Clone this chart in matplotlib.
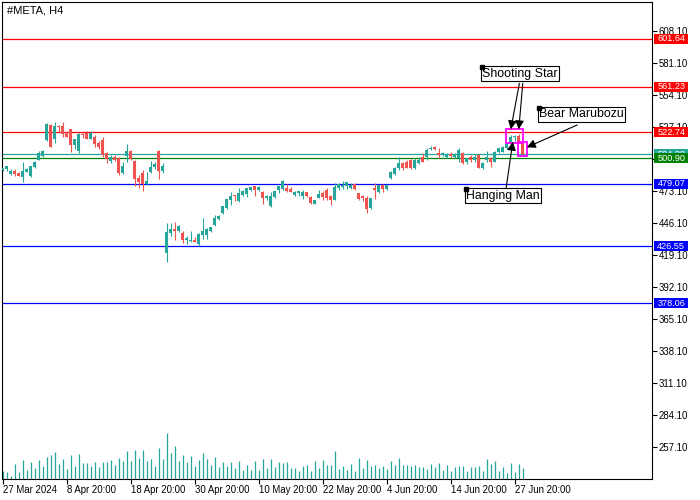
import matplotlib
matplotlib.use("Agg")
import matplotlib.pyplot as plt
from matplotlib.patches import Rectangle

plt.rcParams["font.family"] = ["Liberation Sans", "DejaVu Sans"]

symbol = "#META, H4"

# OHLC per H4 bar
opens = [491.0, 491.7, 487.7, 490.0, 488.6, 485.2, 489.4, 486.1, 493.7, 499.6,
         503.0, 516.2, 528.9, 516.8, 527.5, 528.0, 522.7, 525.2, 512.0, 507.2,
         520.4, 522.4, 517.3, 519.0, 514.0, 516.2, 504.9, 498.2, 502.1, 501.0,
         488.3, 503.0, 506.9, 498.7, 483.8, 488.3, 479.0, 489.1, 493.1, 507.2,
         489.7, 421.0, 437.9, 441.0, 439.5, 438.0, 431.3, 430.8, 431.5, 428.5,
         436.0, 436.0, 439.5, 444.6, 449.4, 454.5, 458.6, 465.4, 469.7, 464.3,
         469.5, 470.9, 474.1, 477.0, 473.9, 472.5, 466.8, 460.8, 468.2, 474.3,
         474.9, 475.8, 474.9, 469.6, 471.0, 469.3, 472.1, 468.2, 462.5, 467.6,
         471.0, 473.8, 468.7, 465.9, 475.8, 476.6, 477.2, 475.8, 479.1, 471.8,
         468.2, 467.6, 458.6, 475.5, 472.4, 478.0, 474.9, 484.5, 487.2, 492.2,
         496.5, 497.9, 499.3, 492.2, 496.5, 502.1, 502.1, 508.6, 510.5, 504.9,
         503.5, 502.1, 504.1, 502.1, 500.7, 504.9, 497.3, 502.1, 499.3, 503.5,
         492.2, 499.3, 500.7, 497.9, 505.8, 506.3, 509.1, 514.8, 518.4, 519.6,
         513.8]
highs = [492.8, 494.5, 491.7, 491.4, 489.4, 497.6, 492.5, 494.5, 498.4, 507.2,
         508.0, 530.3, 529.7, 531.4, 528.9, 531.4, 523.5, 525.8, 517.2, 521.8,
         522.4, 524.1, 523.8, 520.1, 515.6, 519.0, 506.0, 503.8, 503.5, 501.5,
         497.3, 512.8, 507.7, 499.3, 487.0, 490.8, 489.1, 498.7, 497.9, 508.0,
         496.8, 445.8, 445.7, 447.0, 444.4, 439.0, 434.7, 439.6, 434.0, 438.0,
         450.2, 441.6, 443.0, 453.0, 453.1, 460.7, 466.6, 472.4, 469.9, 475.5,
         473.9, 475.9, 476.8, 477.3, 477.1, 473.4, 469.8, 472.1, 473.5, 477.7,
         482.8, 478.9, 476.6, 472.9, 472.7, 473.8, 472.1, 469.3, 465.9, 474.3,
         472.7, 475.5, 470.1, 480.0, 480.0, 481.4, 481.1, 480.0, 480.0, 471.8,
         470.1, 469.3, 467.6, 480.0, 478.6, 479.4, 478.9, 489.8, 493.0, 502.1,
         497.9, 499.3, 500.0, 500.7, 502.1, 504.9, 509.1, 511.4, 511.4, 509.1,
         505.8, 505.5, 506.3, 505.5, 509.1, 505.8, 501.2, 503.5, 504.1, 504.1,
         497.3, 506.9, 502.1, 506.9, 509.7, 511.4, 514.8, 520.4, 520.7, 521.0,
         514.0]
lows = [490.2, 490.3, 486.9, 485.8, 485.5, 481.0, 489.0, 484.6, 492.2, 499.3,
        502.1, 515.5, 510.3, 513.4, 523.2, 519.0, 518.5, 506.3, 508.6, 504.9,
        517.6, 517.0, 516.8, 510.6, 508.6, 502.1, 497.0, 496.8, 498.7, 486.9,
        487.4, 497.9, 499.3, 477.6, 476.0, 473.4, 478.2, 488.6, 491.4, 483.2,
        488.3, 413.4, 434.7, 432.0, 438.2, 429.4, 428.0, 429.6, 429.6, 426.5,
        432.6, 432.5, 438.7, 443.5, 448.6, 453.7, 457.6, 461.3, 464.3, 463.7,
        468.6, 467.8, 473.4, 469.2, 473.1, 462.1, 465.3, 459.7, 467.3, 471.0,
        474.3, 472.1, 472.1, 468.7, 468.7, 466.7, 468.2, 462.5, 461.9, 467.0,
        465.3, 465.9, 461.1, 465.3, 474.3, 474.9, 475.2, 475.2, 473.8, 465.3,
        464.5, 454.3, 458.3, 466.7, 471.0, 472.4, 473.8, 483.6, 486.6, 490.8,
        490.8, 492.2, 491.5, 491.5, 495.8, 497.3, 499.3, 507.4, 507.7, 501.2,
        502.4, 501.0, 501.2, 501.2, 497.9, 495.6, 496.2, 497.9, 497.9, 492.2,
        491.5, 497.9, 493.1, 497.3, 504.9, 505.8, 508.6, 513.4, 515.0, 514.2,
        503.9]
closes = [492.2, 494.2, 490.0, 487.2, 486.1, 490.0, 491.7, 494.2, 497.6, 504.9,
          507.2, 529.4, 510.6, 528.0, 527.0, 521.3, 519.0, 512.0, 516.8, 521.0,
          520.1, 517.3, 522.4, 512.8, 510.6, 503.5, 499.9, 502.1, 499.3, 488.0,
          494.5, 506.9, 499.9, 483.2, 481.0, 479.0, 481.6, 493.7, 495.9, 490.3,
          494.5, 438.2, 441.2, 439.6, 443.8, 431.3, 433.0, 431.2, 429.7, 437.0,
          439.5, 440.9, 442.6, 450.3, 452.3, 460.2, 466.0, 469.1, 468.5, 471.3,
          473.0, 475.3, 476.2, 474.1, 476.5, 466.9, 469.0, 469.3, 472.7, 477.2,
          481.9, 472.9, 472.4, 472.4, 472.7, 472.4, 468.7, 462.8, 465.3, 470.4,
          468.2, 467.6, 465.9, 476.3, 478.9, 478.3, 480.8, 478.6, 474.9, 466.7,
          467.6, 458.3, 467.6, 473.8, 478.0, 475.2, 478.0, 489.0, 492.2, 496.5,
          492.2, 492.2, 492.2, 499.3, 499.3, 497.9, 507.7, 509.7, 508.3, 503.5,
          504.9, 504.1, 502.9, 504.1, 507.7, 496.5, 500.7, 499.3, 502.1, 492.2,
          496.5, 502.1, 497.9, 505.8, 509.1, 510.5, 513.4, 519.0, 519.6, 514.6,
          504.1]
volumes = [8, 7, 3, 15, 7, 19, 9, 17, 11, 19,
           13, 22, 24, 27, 15, 20, 10, 24, 13, 25,
           16, 16, 13, 17, 12, 17, 17, 19, 14, 21,
           18, 28, 18, 29, 21, 29, 18, 20, 13, 31,
           20, 46, 26, 33, 18, 24, 17, 23, 13, 19,
           26, 20, 14, 22, 12, 17, 13, 17, 11, 18,
           9, 14, 9, 18, 9, 20, 11, 20, 12, 17,
           16, 17, 11, 11, 8, 13, 14, 8, 18, 11,
           19, 14, 14, 28, 10, 13, 9, 15, 8, 21,
           11, 19, 13, 14, 11, 13, 10, 18, 14, 21,
           14, 14, 13, 14, 12, 12, 10, 15, 12, 16,
           9, 14, 8, 12, 13, 13, 8, 12, 12, 13,
           8, 20, 15, 18, 8, 12, 6, 16, 7, 15,
           11]

date_ticks = [0, 16, 32, 48, 64, 80, 96, 112, 128]
date_labels = ["27 Mar 2024", "8 Apr 20:00", "18 Apr 20:00", "30 Apr 20:00",
               "10 May 20:00", "22 May 20:00", "4 Jun 20:00", "14 Jun 20:00",
               "27 Jun 20:00"]
price_ticks = [257.10, 284.10, 311.10, 338.10, 365.10, 392.10, 419.10,
               446.10, 473.10, 500.10, 527.10, 554.10, 581.10, 608.10]

levels = [601.64, 561.23, 522.74, 504.28, 500.90, 479.07, 426.55, 378.06]
level_colors = ["#ff0000", "#ff0000", "#ff0000", "#26a69a", "#008000",
                "#0000ff", "#0000ff", "#0000ff"]

bull = "#26a69a"
bear = "#ef5350"

W, H = 700, 500
fig = plt.figure(figsize=(W / 100, H / 100), dpi=100)
ax_px = (2.3, 21.5, 649.7, 476.5)  # left, bottom, width, height in px
ax = fig.add_axes([ax_px[0] / W, ax_px[1] / H, ax_px[2] / W, ax_px[3] / H])
ymin, ymax = 230.2, 632.8
ax.set_xlim(-0.1, 162.3)
ax.set_ylim(ymin, ymax)
ppx = (ymax - ymin) / ax_px[3]  # price per pixel

n = len(opens)
xs = list(range(n))

# volumes along the bottom (1 unit = 1 px)
ax.vlines(xs, 0, [v / ax_px[3] for v in volumes], color=bull, lw=0.9,
          transform=ax.get_xaxis_transform(), zorder=1)

# support / resistance lines
for lv, col in zip(levels, level_colors):
    ax.axhline(lv, color=col, lw=0.9, zorder=2)

# candles
for i in xs:
    o, h, l, c = opens[i], highs[i], lows[i], closes[i]
    col = bull if c >= o else bear
    ax.vlines(i, l, h, color=col, lw=0.8, zorder=3)
    body = max(abs(c - o), 0.9)
    ax.bar(i, body, bottom=min(o, c), width=0.8, color=col, lw=0, zorder=3)

# pattern boxes
ss_idx = [127, 129]
hm_idx = 128
bm_idx = 130
box1 = (125.8, min(lows[127:130]) + 0.5, 130.0, max(highs[127:130]) + 4.2)
box2 = (128.9, lows[bm_idx] - 1.0, 131.0, highs[bm_idx] + 0.3)
for bx in (box1, box2):
    ax.add_patch(Rectangle((bx[0], bx[1]), bx[2] - bx[0], bx[3] - bx[1],
                           fill=False, ec="#ff00ff", lw=1.3, zorder=4))

arrow = dict(arrowstyle="-|>", color="black", lw=0.8, mutation_scale=13,
             shrinkA=0, shrinkB=0)
lab_box = dict(boxstyle="square,pad=0.12", fc="white", ec="black", lw=0.8)
lab_kw = dict(ha="left", va="top", fontsize=8.9, color="black", bbox=lab_box,
              zorder=6)

# Shooting Star
ss_tails = [(129.15, 564.1), (130.0, 564.1)]
for idx, tail in zip(ss_idx, ss_tails):
    ax.annotate("", xy=(idx, box1[3]), xytext=tail, arrowprops=arrow, zorder=5)
ax.text(119.9, 577.2, "Shooting Star", **lab_kw)
ax.plot(119.8, 577.5, "s", color="black", ms=3, zorder=7)

# Hanging Man
ax.annotate("", xy=(hm_idx - 0.5, lows[hm_idx] - 0.2), xytext=(125.8, 474.5),
            arrowprops=arrow, zorder=5)
ax.text(115.9, 474.1, "Hanging Man", **lab_kw)
ax.plot(115.8, 474.4, "s", color="black", ms=3, zorder=7)

# Bear Marubozu
ax.annotate("", xy=(box2[2], 510.0), xytext=(143.6, 528.9),
            arrowprops=arrow, zorder=5)
ax.text(134.1, 542.9, "Bear Marubozu", **lab_kw)
ax.plot(134.0, 543.2, "s", color="black", ms=3, zorder=7)

# axes styling
for sp in ax.spines.values():
    sp.set_linewidth(0.8)
    sp.set_color("black")
ax.yaxis.tick_right()
ax.set_yticks(price_ticks)
# 500.10 sits fully under the level tags
ax.set_yticklabels(["" if p == 500.10 else f"{p:.2f}" for p in price_ticks])
ax.set_xticks(date_ticks)
ax.set_xticklabels(date_labels)
for lbl in ax.get_xticklabels():
    lbl.set_ha("left")
ax.tick_params(axis="both", length=3.5, width=0.8, labelsize=6.9, pad=1.5,
               direction="out", colors="black")

# price level tags on the right
tag_w = 34 / ax_px[2]
tag_h = 10 * ppx
tag_x = 1.0035
for k, (lv, col) in enumerate(zip(levels, level_colors)):
    ax.add_patch(Rectangle((tag_x, lv - tag_h / 2), tag_w, tag_h, fc=col, ec="none",
                           transform=ax.get_yaxis_transform(), clip_on=False,
                           zorder=8 + k * 0.01))
    ax.text(tag_x + tag_w / 2, lv, f"{lv:.2f}", color="white", fontsize=6.6,
            ha="center", va="center", transform=ax.get_yaxis_transform(),
            clip_on=False, zorder=8 + k * 0.01 + 0.005)

ax.text(0.0068, 0.992, symbol, transform=ax.transAxes, ha="left", va="top",
        fontsize=8, color="black")

fig.savefig("out.png", dpi=100)
